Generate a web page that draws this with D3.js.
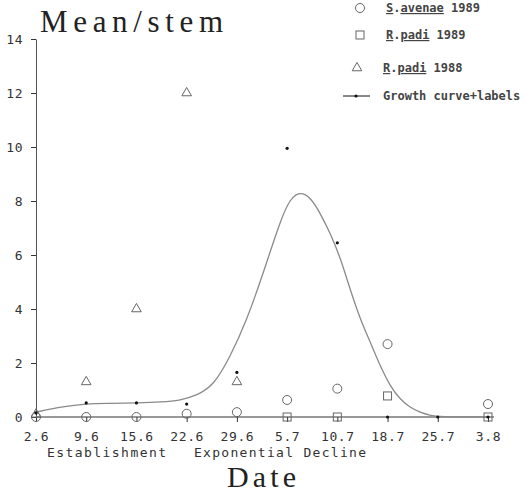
<!DOCTYPE html>
<html><head><meta charset="utf-8">
<script src="https://cdn.jsdelivr.net/npm/d3@7"></script>
<style>body{margin:0;background:#fff}svg{display:block}</style>
</head><body><div id="chart"></div>
<script>
const dates = ["2.6","9.6","15.6","22.6","29.6","5.7","10.7","18.7","25.7","3.8"];
const yTicks = [0,2,4,6,8,10,12,14];
const savenae1989 = [0, 0, 0, 0.12, 0.18, 0.63, 1.05, 2.7, null, 0.48];
const rpadi1989   = [null, null, null, null, null, 0, 0, 0.78, null, 0];
const rpadi1988   = [0.1, 1.3, 4.0, 12.0, 1.3, null, null, null, null, null];
const growthLabels = [0.15, 0.52, 0.52, 0.48, 1.65, 9.95, 6.45, 0, 0, 0];
// growth curve: position in date steps, value
const curvePos = [0, 0, 0.5, 1, 1.5, 2, 2.5, 2.88, 3.2, 3.53, 3.86, 4.2, 4.52, 4.86, 5.06, 5.26, 5.46, 5.66, 5.86, 6.06, 6.25, 6.46, 6.65, 6.85, 7.05, 7.25, 7.45, 7.65, 7.85, 8, 9, 9];
const curveVal = [0.18, 0.18, 0.38, 0.5, 0.5, 0.52, 0.55, 0.62, 0.8, 1.15, 2.2, 3.6, 5.3, 7.25, 8.1, 8.35, 8.15, 7.55, 6.8, 5.9, 4.75, 3.6, 2.8, 1.9, 1.15, 0.65, 0.35, 0.17, 0.06, 0.01, 0, 0];
const legendItems = [
  {sym:"circle", parts:[["S",1],[".",0],["avenae",1],[" 1989",0]]},
  {sym:"square", parts:[["R",1],[".",0],["padi",1],[" 1989",0]]},
  {sym:"triangle", parts:[["R",1],[".",0],["padi",1],[" 1988",0]]},
  {sym:"line", parts:[["Growth curve+labels",0]]}
];

const W = 526, H = 496;
const svg = d3.select("#chart").append("svg").attr("width", W).attr("height", H);
const x = d3.scalePoint().domain(dates).range([36, 488]).padding(0);
const xc = d3.scaleLinear().domain([0, dates.length - 1]).range([36, 488]);
const y = d3.scaleLinear().domain([0, 14]).range([417, 39]);
const mono = "'DejaVu Sans Mono', monospace";
const serif = "'Liberation Serif', 'Times New Roman', serif";
const ink = "#333", mk = "#666";

// axes
const gx = svg.append("g").attr("transform", `translate(0,${y(0)})`)
  .call(d3.axisBottom(x).tickSize(5).tickPadding(10).tickSizeOuter(0));
gx.select(".domain").attr("d", `M36,0H494`).attr("stroke", ink);
gx.selectAll(".tick line").attr("stroke", ink);
gx.selectAll(".tick text").attr("font-family", mono).attr("font-size", 13).attr("fill", ink).attr("letter-spacing", 0.6);

const gy = svg.append("g").attr("transform", `translate(36,0)`)
  .call(d3.axisLeft(y).tickValues(yTicks).tickSize(5).tickPadding(8).tickSizeOuter(0));
gy.select(".domain").attr("stroke", "#555");
gy.selectAll(".tick line").attr("stroke", ink);
gy.selectAll(".tick text").attr("font-family", mono).attr("font-size", 13).attr("fill", ink).attr("letter-spacing", 0.5);

// growth curve
const curveData = curvePos.map((p, i) => [p, curveVal[i]]);
svg.append("path").datum(curveData)
  .attr("d", d3.line().x(d => xc(d[0])).y(d => y(d[1])).curve(d3.curveBasis))
  .attr("fill", "none").attr("stroke", "#8a8a8a").attr("stroke-width", 1.3);

function pts(arr) { return dates.map((d, i) => ({d, v: arr[i]})).filter(o => o.v !== null); }

svg.append("g").selectAll("circle").data(pts(savenae1989)).join("circle")
  .attr("cx", o => x(o.d)).attr("cy", o => y(o.v)).attr("r", 4.5)
  .attr("fill", "none").attr("stroke", mk).attr("stroke-width", 1);
svg.append("g").selectAll("rect").data(pts(rpadi1989)).join("rect")
  .attr("x", o => x(o.d) - 4).attr("y", o => y(o.v) - 4).attr("width", 8).attr("height", 8)
  .attr("fill", "none").attr("stroke", mk).attr("stroke-width", 1);
const tri = d3.symbol().type(d3.symbolTriangle).size(40);
svg.append("g").selectAll("path").data(pts(rpadi1988)).join("path")
  .attr("transform", o => `translate(${x(o.d)},${y(o.v)})`).attr("d", tri)
  .attr("fill", "none").attr("stroke", mk).attr("stroke-width", 1);
svg.append("g").selectAll("circle").data(pts(growthLabels)).join("circle")
  .attr("cx", o => x(o.d)).attr("cy", o => y(o.v)).attr("r", 1.6).attr("fill", "#111");

// legend
const legY = [8, 35, 68, 96];
legendItems.forEach((it, i) => {
  const g = svg.append("g").attr("transform", `translate(0,${legY[i]})`);
  if (it.sym === "circle") g.append("circle").attr("cx", 360).attr("r", 4.5).attr("fill", "none").attr("stroke", mk);
  if (it.sym === "square") g.append("rect").attr("x", 356).attr("y", -4).attr("width", 8).attr("height", 8).attr("fill", "none").attr("stroke", mk);
  if (it.sym === "triangle") g.append("path").attr("transform", "translate(357,0)").attr("d", tri).attr("fill", "none").attr("stroke", mk);
  if (it.sym === "line") {
    g.append("line").attr("x1", 343).attr("x2", 370).attr("stroke", "#111").attr("stroke-width", 1);
    g.append("circle").attr("cx", 356).attr("r", 1.6).attr("fill", "#111");
  }
  const t = g.append("text").attr("x", it.sym === "circle" || it.sym === "square" ? 386 : 383).attr("y", 4)
    .attr("font-family", mono).attr("font-size", 12).attr("font-weight", "bold").attr("fill", "#444");
  it.parts.forEach(p => t.append("tspan").text(p[0]).attr("text-decoration", p[1] ? "underline" : null));
});

// titles
svg.append("text").attr("x", 40).attr("y", 32).text("Mean/stem")
  .attr("font-family", serif).attr("font-size", 31).attr("fill", "#222")
  .attr("textLength", 183).attr("lengthAdjust", "spacing");
svg.append("text").attr("x", 227).attr("y", 487).text("Date")
  .attr("font-family", serif).attr("font-size", 30).attr("fill", "#222")
  .attr("textLength", 69).attr("lengthAdjust", "spacing");
svg.append("text").attr("x", 47).attr("y", 457).text("Establishment")
  .attr("font-family", mono).attr("font-size", 13).attr("fill", ink)
  .attr("textLength", 119).attr("lengthAdjust", "spacing");
svg.append("text").attr("x", 194).attr("y", 457).text("Exponential Decline")
  .attr("font-family", mono).attr("font-size", 13).attr("fill", ink)
  .attr("textLength", 172).attr("lengthAdjust", "spacing");
</script></body></html>
